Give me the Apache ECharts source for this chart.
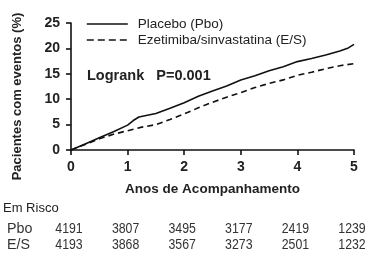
<!DOCTYPE html>
<html>
<head>
<meta charset="utf-8">
<script src="https://cdn.jsdelivr.net/npm/echarts@6/dist/echarts.min.js"></script>
<style>
html,body{margin:0;padding:0;background:#fff;}
#c{width:377px;height:261px;}
</style>
</head>
<body>
<div id="c"></div>
<script>
// ---- data ----
const seriesNames = ['Placebo (Pbo)', 'Ezetimiba/sinvastatina (E/S)'];
const pboYears = [0, 0.25, 0.5, 0.75, 1, 1.1, 1.2, 1.5, 1.75, 2, 2.25, 2.5, 2.75, 3, 3.25, 3.5, 3.75, 4, 4.25, 4.5, 4.75, 4.9, 5];
const pboValues = [0, 1.2, 2.4, 3.6, 4.9, 5.8, 6.5, 7.2, 8.2, 9.3, 10.6, 11.6, 12.6, 13.8, 14.6, 15.6, 16.4, 17.4, 18.0, 18.7, 19.5, 20.1, 20.8];
const esYears = [0, 0.25, 0.5, 0.75, 1, 1.25, 1.5, 1.75, 2, 2.25, 2.5, 2.75, 3, 3.25, 3.5, 3.75, 4, 4.25, 4.5, 4.75, 5];
const esValues = [0, 1.1, 2.2, 3.1, 3.8, 4.5, 5.0, 6.0, 7.1, 8.3, 9.4, 10.4, 11.3, 12.3, 13.1, 13.8, 14.7, 15.3, 16.0, 16.6, 17.0];
const xTicks = [0, 1, 2, 3, 4, 5];
const riskTitle = 'Em Risco';
const riskRowLabels = ['Pbo', 'E/S'];
const riskPbo = [4191, 3807, 3495, 3177, 2419, 1239];
const riskES = [4193, 3868, 3567, 3273, 2501, 1232];
const logrankText = 'Logrank   P=0.001';
const xAxisName = 'Anos de Acompanhamento';
const yAxisName = 'Pacientes com eventos (%)';

const FONT = 'Arial, "Liberation Sans", sans-serif';
const chart = echarts.init(document.getElementById('c'), null, {renderer: 'canvas'});

const pair = (xs, ys) => xs.map((x, i) => [x, ys[i]]);

chart.setOption({
  animation: false,
  backgroundColor: '#fff',
  textStyle: {fontFamily: FONT},
  grid: {left: 71, right: 23, top: 23, bottom: 111, containLabel: false},
  legend: {
    orient: 'vertical', left: 81, top: 12, itemWidth: 41, itemHeight: 10, itemGap: 2,
    itemStyle: {opacity: 0},
    textStyle: {fontFamily: FONT, fontSize: 13.5, color: '#222', padding: [0, 0, 0, 5]},
    data: [
      {name: seriesNames[0], lineStyle: {type: 'solid', width: 1.6}},
      {name: seriesNames[1], lineStyle: {type: [7, 4], width: 1.6}}
    ]
  },
  xAxis: {
    type: 'value', min: 0, max: 5, interval: 1,
    name: xAxisName, nameLocation: 'middle', nameGap: 32,
    nameTextStyle: {fontFamily: FONT, fontSize: 13.5, fontWeight: 'bold', color: '#222'},
    axisLine: {show: true, onZero: false, lineStyle: {color: '#111', width: 1.6}},
    axisTick: {show: true, length: 5, lineStyle: {color: '#111', width: 1.6}},
    axisLabel: {fontFamily: FONT, fontSize: 14, fontWeight: 'bold', color: '#222', margin: 10},
    splitLine: {show: false}
  },
  yAxis: {
    type: 'value', min: 0, max: 25, interval: 5,
    name: yAxisName, nameLocation: 'middle', nameGap: 47, nameRotate: 90,
    nameTextStyle: {fontFamily: FONT, fontSize: 13, fontWeight: 'bold', color: '#222', padding: [0, 20, 0, 0]},
    axisLine: {show: true, lineStyle: {color: '#111', width: 1.6}},
    axisTick: {show: true, length: 5, lineStyle: {color: '#111', width: 1.6}},
    axisLabel: {fontFamily: FONT, fontSize: 14, fontWeight: 'bold', color: '#222', margin: 11},
    splitLine: {show: false}
  },
  series: [
    {
      name: seriesNames[0], type: 'line', data: pair(pboYears, pboValues),
      showSymbol: false, symbol: 'none', smooth: false,
      lineStyle: {color: '#111', width: 1.6, type: 'solid'},
      itemStyle: {color: '#111'}
    },
    {
      name: seriesNames[1], type: 'line', data: pair(esYears, esValues),
      showSymbol: false, symbol: 'none', smooth: false,
      lineStyle: {color: '#111', width: 1.6, type: [6, 4]},
      itemStyle: {color: '#111'}
    }
  ]
});

// risk table & annotation placed from the axis scale
const graphics = [];
const lp = chart.convertToPixel({gridIndex: 0}, [0, 15]);
graphics.push({type: 'text', x: lp[0] + 16, y: 76,
  style: {text: logrankText, fontFamily: FONT, fontSize: 14.5, fontWeight: 'bold', fill: '#222', verticalAlign: 'middle'}});
graphics.push({type: 'text', x: 3, y: 208,
  style: {text: riskTitle, fontFamily: FONT, fontSize: 13, fill: '#222', verticalAlign: 'middle'}});
const rowY = [229, 245];
riskRowLabels.forEach((lab, r) => {
  graphics.push({type: 'text', x: 7, y: rowY[r], scaleX: 0.95,
    style: {text: lab, fontFamily: FONT, fontSize: 15, fill: '#333', verticalAlign: 'middle'}});
});
[riskPbo, riskES].forEach((row, r) => {
  row.forEach((v, i) => {
    const px = chart.convertToPixel({gridIndex: 0}, [xTicks[i], 0])[0];
    graphics.push({type: 'text', x: px - 2, y: rowY[r], scaleX: 0.88,
      style: {text: String(v), fontFamily: FONT, fontSize: 14, fill: '#333', align: 'center', verticalAlign: 'middle'}});
  });
});
chart.setOption({graphic: graphics});
</script>
</body>
</html>
